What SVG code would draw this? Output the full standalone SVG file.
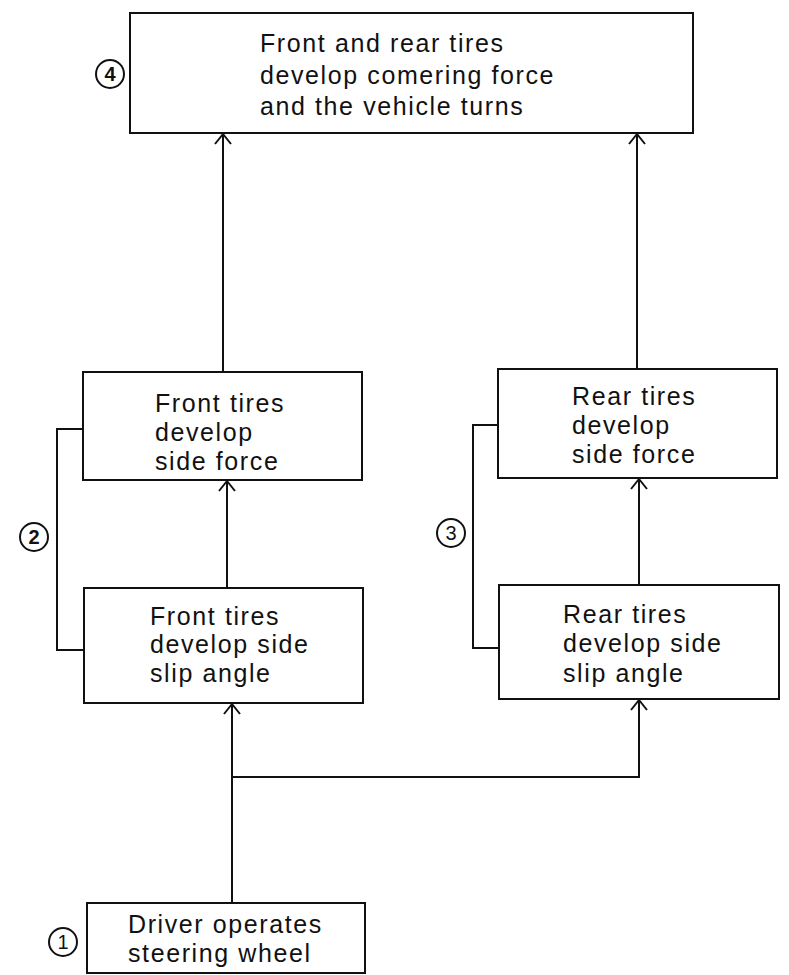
<svg xmlns="http://www.w3.org/2000/svg" width="789" height="975" viewBox="0 0 789 975">
<style>
.box{fill:#fff;stroke:#111;stroke-width:2}
.t{font-family:"Liberation Sans",Arial,sans-serif;font-size:25px;letter-spacing:1.6px;fill:#111}
.c{fill:none;stroke:#111;stroke-width:2}
.n{font-family:"Liberation Sans",Arial,sans-serif;font-size:20px;fill:#111;text-anchor:middle}
.b{font-weight:bold}
.ln{fill:none;stroke:#111;stroke-width:2}
</style>
<defs>
<marker id="arr" markerUnits="userSpaceOnUse" viewBox="-12 -10 14 20" refX="0" refY="0" markerWidth="14" markerHeight="20" orient="auto">
<path d="M-10,-8 L0,0 L-10,8" fill="none" stroke="#111" stroke-width="2"/>
</marker>
</defs>
<rect width="789" height="975" fill="#fff"/>
<g id="connectors">
<line class="ln" x1="232" y1="903" x2="232" y2="704" marker-end="url(#arr)"/>
<polyline class="ln" points="232,777 639,777 639,700" marker-end="url(#arr)"/>
<line class="ln" x1="227" y1="588" x2="227" y2="481" marker-end="url(#arr)"/>
<line class="ln" x1="223" y1="372" x2="223" y2="134" marker-end="url(#arr)"/>
<line class="ln" x1="639" y1="585" x2="639" y2="479" marker-end="url(#arr)"/>
<line class="ln" x1="637" y1="369" x2="637" y2="134" marker-end="url(#arr)"/>
<polyline class="ln" points="83,429 57,429 57,650 84,650"/>
<polyline class="ln" points="498,425 473,425 473,648 499,648"/>
</g>
<g id="node-turns">
<rect class="box" x="130" y="13" width="563" height="120"/>
<text class="t" x="260" y="52">Front and rear tires</text>
<text class="t" x="260" y="84">develop comering force</text>
<text class="t" x="260" y="115">and the vehicle turns</text>
</g>
<g id="label-4">
<circle class="c" cx="110" cy="74" r="14"/>
<text class="n b" x="110" y="81">4</text>
</g>
<g id="node-front-force">
<rect class="box" x="83" y="372" width="279" height="108"/>
<text class="t" x="155" y="412">Front tires</text>
<text class="t" x="155" y="441">develop</text>
<text class="t" x="155" y="470">side force</text>
</g>
<g id="node-front-slip">
<rect class="box" x="84" y="588" width="279" height="115"/>
<text class="t" x="150" y="625">Front tires</text>
<text class="t" x="150" y="653">develop side</text>
<text class="t" x="150" y="682">slip angle</text>
</g>
<g id="label-2">
<circle class="c" cx="34" cy="537" r="14"/>
<text class="n b" x="34" y="544">2</text>
</g>
<g id="node-rear-force">
<rect class="box" x="498" y="369" width="279" height="109"/>
<text class="t" x="572" y="405">Rear tires</text>
<text class="t" x="572" y="434">develop</text>
<text class="t" x="572" y="463">side force</text>
</g>
<g id="node-rear-slip">
<rect class="box" x="499" y="585" width="280" height="114"/>
<text class="t" x="563" y="623">Rear tires</text>
<text class="t" x="563" y="652">develop side</text>
<text class="t" x="563" y="682">slip angle</text>
</g>
<g id="label-3">
<circle class="c" cx="451" cy="533" r="14"/>
<text class="n" x="451" y="540">3</text>
</g>
<g id="node-driver">
<rect class="box" x="87" y="903" width="278" height="70"/>
<text class="t" x="128" y="933">Driver operates</text>
<text class="t" x="128" y="962">steering wheel</text>
</g>
<g id="label-1">
<circle class="c" cx="63" cy="942" r="14"/>
<text class="n" x="63" y="949">1</text>
</g>
</svg>
